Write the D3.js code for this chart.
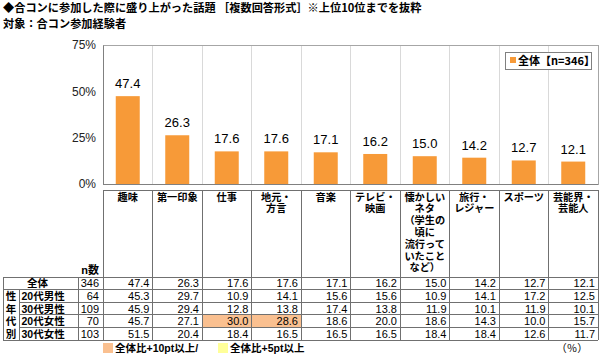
<!DOCTYPE html>
<html><head><meta charset="utf-8">
<script src="https://cdn.jsdelivr.net/npm/d3@7"></script>
<style>
body{margin:0;background:#fff;}
svg{display:block;}
</style></head>
<body>
<svg id="c" width="600" height="355"></svg>
<script>
const categories = ["趣味","第一印象","仕事","地元・\n方言","音楽","テレビ・\n映画","懐かしい\nネタ\n（学生の\n頃に\n流行って\nいたこと\nなど）","旅行・\nレジャー","スポーツ","芸能界・\n芸能人"];
const totalValues = [47.4,26.3,17.6,17.6,17.1,16.2,15.0,14.2,12.7,12.1];
const rowLabels = ["全体","20代男性","30代男性","20代女性","30代女性"];
const rowN = [346,64,109,70,103];
const rowValues = [
  [47.4,26.3,17.6,17.6,17.1,16.2,15.0,14.2,12.7,12.1],
  [45.3,29.7,10.9,14.1,15.6,15.6,10.9,14.1,17.2,12.5],
  [45.9,29.4,12.8,13.8,17.4,13.8,11.9,10.1,11.9,10.1],
  [45.7,27.1,30.0,28.6,18.6,20.0,18.6,14.3,10.0,15.7],
  [51.5,20.4,18.4,16.5,16.5,16.5,18.4,18.4,12.6,11.7]
];
const yTicks = [0,25,50,75];
const sideLabel = ["性","年","代","別"];
const legendLabel = "全体【n=346】";
const title1 = "◆合コンに参加した際に盛り上がった話題 ［複数回答形式］※上位10位までを抜粋";
const title2 = "対象：合コン参加経験者";
const noteHi = "全体比+10pt以上/";
const noteMid = "全体比+5pt以上";

const JP = "'Noto Sans CJK JP','Noto Sans',sans-serif";
const JPT = "'Liberation Sans','Noto Sans CJK JP',sans-serif";
const NUM = "'Liberation Sans',Arial,sans-serif";
const ORANGE = "#F79A38";
const PEACH = "#FAC090";
const YELLOW = "#FFFF99";
const LINE = "#707070";

const svg = d3.select("#c");
const L = 103, R = 598, T = 45, B = 184;
const x = d3.scaleBand().domain(d3.range(categories.length)).range([L, R]).padding(0);
const y = d3.scaleLinear().domain([0,75]).range([B, T]);
const barW = 24;

// titles
svg.append("text").attr("x",3).attr("y",12).text(title1)
  .attr("font-family",JP).attr("font-size",11.2).attr("font-weight","bold").attr("fill","#000");
svg.append("text").attr("x",3).attr("y",28).text(title2)
  .attr("font-family",JP).attr("font-size",11.2).attr("font-weight","bold").attr("fill","#000");

// vertical grid lines
svg.append("g").selectAll("line").data(d3.range(1,categories.length)).join("line")
  .attr("x1",d=>x(d)).attr("x2",d=>x(d)).attr("y1",T).attr("y2",B)
  .attr("stroke","#d9d9d9").attr("stroke-width",1).attr("shape-rendering","crispEdges");
// plot border
svg.append("rect").attr("x",L).attr("y",T).attr("width",R-L).attr("height",B-T)
  .attr("fill","none").attr("stroke","#a6a6a6").attr("shape-rendering","crispEdges");

// y axis
const yAxis = d3.axisLeft(y).tickValues(yTicks).tickFormat(d=>d+"%").tickSize(0).tickPadding(7);
const ga = svg.append("g").attr("transform",`translate(${L},0)`).call(yAxis);
ga.select(".domain").attr("stroke","#808080");
ga.selectAll("text").attr("font-family",NUM).attr("font-size",12).attr("fill","#222");
svg.append("line").attr("x1",L).attr("x2",R).attr("y1",B).attr("y2",B)
  .attr("stroke","#808080").attr("shape-rendering","crispEdges");

// bars
svg.append("g").selectAll("rect").data(totalValues).join("rect")
  .attr("x",(d,i)=>x(i)+x.bandwidth()/2-barW/2).attr("width",barW)
  .attr("y",d=>y(d)).attr("height",d=>y(0)-y(d)).attr("fill",ORANGE);
svg.append("g").selectAll("text").data(totalValues).join("text")
  .attr("x",(d,i)=>x(i)+x.bandwidth()/2).attr("y",d=>y(d)-8)
  .attr("text-anchor","middle").attr("font-family",NUM).attr("font-size",13).attr("fill","#000")
  .text(d=>d.toFixed(1));

// legend
const lg = svg.append("g");
lg.append("rect").attr("x",505).attr("y",52).attr("width",86).attr("height",17)
  .attr("fill","#fff").attr("stroke","#808080").attr("shape-rendering","crispEdges");
lg.append("rect").attr("x",510).attr("y",57).attr("width",6).attr("height",6).attr("fill",ORANGE);
lg.append("text").attr("x",518).attr("y",64.5).text(legendLabel)
  .attr("font-family",JP).attr("font-size",11).attr("font-weight","bold").attr("fill","#000");

// table
const tTop = 190, hBot = 277, rowH = 12.6, tLeft = 3, sepSide = 19, sepN = 78;
const rowsBot = hBot + rowH*rowLabels.length;
const tg = svg.append("g");

// highlight cells
rowValues.forEach((row,ri)=>{
  if(ri===0) return;
  row.forEach((v,ci)=>{
    const diff = v - rowValues[0][ci];
    let fill = null;
    if(diff >= 10) fill = PEACH; else if(diff >= 5) fill = YELLOW;
    if(fill) tg.append("rect").attr("x",x(ci)).attr("y",hBot+rowH*ri)
      .attr("width",x.bandwidth()).attr("height",rowH).attr("fill",fill);
  });
});

// header category labels
categories.forEach((c,i)=>{
  const lines = c.split("\n");
  lines.forEach((ln,k)=>{
    tg.append("text").attr("text-anchor","middle")
      .attr("font-family",JPT).attr("font-size",10.2).attr("font-weight","bold").attr("fill","#000")
      .attr("x",x(i)+x.bandwidth()/2).attr("y",tTop+10.5+k*11.8).text(ln);
  });
});
tg.append("text").attr("x",99).attr("y",hBot-3).attr("text-anchor","end").text("n数")
  .attr("font-family",JPT).attr("font-size",11).attr("font-weight","bold");

// lines
const hl = (x1,x2,yy)=>tg.append("line").attr("x1",x1).attr("x2",x2).attr("y1",yy).attr("y2",yy)
  .attr("stroke",LINE).attr("shape-rendering","crispEdges");
const vl = (xx,y1,y2)=>tg.append("line").attr("x1",xx).attr("x2",xx).attr("y1",y1).attr("y2",y2)
  .attr("stroke",LINE).attr("shape-rendering","crispEdges");
hl(L,R,tTop);
hl(tLeft,R,hBot);
hl(tLeft,R,hBot+rowH);
for(let r=2;r<rowLabels.length;r++) hl(sepSide,R,hBot+rowH*r);
hl(tLeft,R,rowsBot);
d3.range(categories.length+1).forEach(i=>{
  const xx = i<categories.length ? x(i) : R;
  vl(xx,tTop,rowsBot);
});
vl(tLeft,hBot,rowsBot);
vl(sepN,hBot,rowsBot);
vl(sepSide,hBot+rowH,rowsBot);

// row labels
rowLabels.forEach((lab,ri)=>{
  const yy = hBot+rowH*ri+rowH/2+4;
  if(ri===0){
    tg.append("text").attr("x",(tLeft+sepN)/2-3).attr("y",yy).attr("text-anchor","middle").text(lab)
      .attr("font-family",JPT).attr("font-size",10.5).attr("font-weight","bold");
  } else {
    tg.append("text").attr("x",sepSide+2.5).attr("y",yy).text(lab)
      .attr("font-family",JPT).attr("font-size",10.5).attr("font-weight","bold");
    tg.append("text").attr("x",(tLeft+sepSide)/2).attr("y",yy).attr("text-anchor","middle").text(sideLabel[ri-1])
      .attr("font-family",JPT).attr("font-size",10.5).attr("font-weight","bold");
  }
  tg.append("text").attr("x",sepN+21).attr("y",yy).attr("text-anchor","end").text(rowN[ri])
    .attr("font-family",NUM).attr("font-size",11);
  rowValues[ri].forEach((v,ci)=>{
    tg.append("text").attr("x",x(ci)+x.bandwidth()-3).attr("y",yy).attr("text-anchor","end")
      .text(v.toFixed(1)).attr("font-family",NUM).attr("font-size",11);
  });
});

// footnote
const fy = 348;
svg.append("rect").attr("x",103).attr("y",fy-5).attr("width",10).attr("height",10).attr("fill",PEACH);
svg.append("text").attr("x",115).attr("y",fy+4).text(noteHi)
  .attr("font-family",JPT).attr("font-size",10.5).attr("font-weight","bold");
svg.append("rect").attr("x",218).attr("y",fy-5).attr("width",10).attr("height",10).attr("fill",YELLOW);
svg.append("text").attr("x",230).attr("y",fy+4).text(noteMid)
  .attr("font-family",JPT).attr("font-size",10.5).attr("font-weight","bold");
svg.append("text").attr("x",572).attr("y",fy+4).attr("text-anchor","middle").text("（％）")
  .attr("font-family",JPT).attr("font-size",10.5);
</script>
</body></html>
